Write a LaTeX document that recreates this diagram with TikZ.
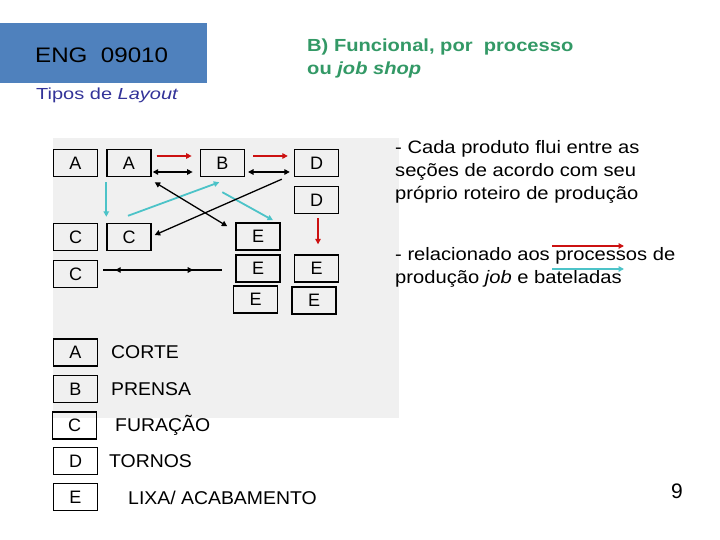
\documentclass[tikz,border=0pt]{standalone}
\usepackage{fontspec}
\usepackage{graphicx}
\setmainfont{Liberation Sans}
\usetikzlibrary{calc,arrows.meta}
\definecolor{bgray}{HTML}{F0F0F0}
\definecolor{hdrblue}{HTML}{4F81BD}
\definecolor{ttlgreen}{HTML}{339966}
\definecolor{navy}{HTML}{333399}
\definecolor{arred}{HTML}{CC1111}
\definecolor{arcyan}{HTML}{4CC3C8}
\newcommand\hstr[2]{\scalebox{#1}[1]{#2}}
\tikzset{
  box/.style={draw=black,line width=1.4pt,minimum width=44pt,minimum height=27pt,inner sep=0pt,font=\fontsize{18}{20}\selectfont},
  txt/.style={anchor=base west,inner sep=0pt,font=\fontsize{18}{22}\selectfont},
  tip/.style={-{Triangle[length=5.5pt,width=5.5pt]}},
  dtip/.style={{Triangle[length=5.5pt,width=5.5pt]}-{Triangle[length=5.5pt,width=5.5pt]}},
  redar/.style={tip,draw=arred,fill=arred,line width=1.3pt},
  cyar/.style={tip,draw=arcyan,fill=arcyan,line width=1.8pt},
  blkar/.style={draw=black,line width=1.3pt}
}
\begin{document}
\begin{tikzpicture}[x=1pt,y=-1pt]
\useasboundingbox (0,0) rectangle (720,540);
\fill[white] (0,0) rectangle (720,540);
% background panels
\fill[bgray] (53,138) rectangle (399,418);
\fill[hdrblue] (0,23) rectangle (207,83);
% header texts
\node[txt,font=\fontsize{21}{24}\selectfont] (eng) at (35,63) {\hstr{1.15}{ENG\ \ 09010}};
\node[txt,text=navy,font=\fontsize{16}{18}\selectfont] (tipos) at (36,100) {\hstr{1.25}{Tipos de \textit{Layout}}};
\node[txt,text=ttlgreen,font=\bfseries\fontsize{17.5}{20}\selectfont] (t1) at (307,52) {\hstr{1.15}{B) Funcional, por\ \ processo}};
\node[txt,text=ttlgreen,font=\bfseries\fontsize{17.5}{20}\selectfont] (t2) at (307,75) {\hstr{1.15}{ou \textit{job shop}}};
% diagram boxes
\node[box] (A1) at (75.5,163) {A};
\node[box] (A2) at (129,163) {A};
\node[box] (B) at (222.3,163) {B};
\node[box] (D1) at (316.5,163) {D};
\node[box] (D2) at (316.5,200) {D};
\node[box] (C1) at (75.5,237) {C};
\node[box] (C2) at (129,237) {C};
\node[box] (E1) at (258,236.5) {E};
\node[box] (C3) at (75.5,274) {C};
\node[box] (E2) at (258,268.5) {E};
\node[box] (E3) at (316.5,268.5) {E};
\node[box] (E4) at (255.5,299.5) {E};
\node[box] (E5) at (314,300.5) {E};
% connectors
\draw[redar] ($(A2.east)+(5,-7)$) -- ($(B.west)+(-8,-7)$);
\draw[redar] ($(B.east)+(8,-7)$) -- ($(D1.west)+(-6,-7)$);
\draw[blkar,dtip] ($(A2.east)+(1,9)$) -- ($(B.west)+(-7,9)$);
\draw[blkar,dtip] ($(B.east)+(3,9)$) -- ($(D1.west)+(-4,9)$);
\draw[cyar] ($(A2.south west)+(0,5)$) -- ($(C2.north west)+(0,-6)$);
\draw[cyar] ($(C2.north)+(-1,-7)$) -- ($(B.south)+(-3,5)$);
\draw[cyar] ($(B.south)+(0,15)$) -- ($(E1.north)+(15,-2)$);
\draw[blkar,dtip] ($(A2.south east)+(3,5)$) -- ($(E1.north west)+(-8,4)$);
\draw[blkar,tip] ($(D1.south west)+(-12,2)$) -- ($(C2.east)+(3,-2)$);
\draw[redar] ($(D2.south)+(1.5,4)$) -- ($(E3.north)+(1.5,-10)$);
\draw[blkar] ($(C3.east)+(5,-4)$) coordinate (cl) -- ($(E2.west)+(-13,1.5)$) coordinate (cr);
\draw[blkar,tip] ($(cl)+(24,0)$) -- ($(cl)+(12,0)$);
\draw[draw=black,line width=1.8pt,tip] ($(cl)+(60,0)$) -- ($(cl)+(90,0)$);
% right text
\node[txt] (r1) at (395,154) {\hstr{1.12}{- Cada produto flui entre as}};
\node[txt] (r2) at (395,177) {\hstr{1.12}{seções de acordo com seu}};
\node[txt] (r3) at (395,200) {\hstr{1.12}{próprio roteiro de produção}};
\node[txt] (r4) at (395,260) {\hstr{1.12}{- relacionado aos processos de}};
\node[txt] (r5) at (395,283) {\hstr{1.12}{produção \textit{job} e bateladas}};
\coordinate (ra1) at (552,246);
\coordinate (ra2) at (624,246);
\coordinate (ca1) at (552,269);
\coordinate (ca2) at (624,269);
\draw[redar] (ra1) -- (ra2);
\draw[cyar] (ca1) -- (ca2);
% legend
\node[box] (LA) at (75.5,352.5) {A};
\node[box] (LB) at (75.5,389) {B};
\node[box] (LC) at (74.5,425.5) {C};
\node[box] (LD) at (75.5,461) {D};
\node[box] (LE) at (75.5,497) {E};
\node[txt,font=\fontsize{18.5}{22}\selectfont] (lta) at (111,358) {\hstr{1.05}{CORTE}};
\node[txt,font=\fontsize{18.5}{22}\selectfont] (ltb) at (111,395) {\hstr{1.05}{PRENSA}};
\node[txt,font=\fontsize{18.5}{22}\selectfont] (ltc) at (115,431) {\hstr{1.05}{FURAÇÃO}};
\node[txt,font=\fontsize{18.5}{22}\selectfont] (ltd) at (109,467) {\hstr{1.05}{TORNOS}};
\node[txt,font=\fontsize{18.5}{22}\selectfont] (lte) at (128,504) {\hstr{1.05}{LIXA/ ACABAMENTO}};
\node[txt,font=\fontsize{21}{24}\selectfont] (pg) at (671,498) {9};
\end{tikzpicture}
\end{document}
